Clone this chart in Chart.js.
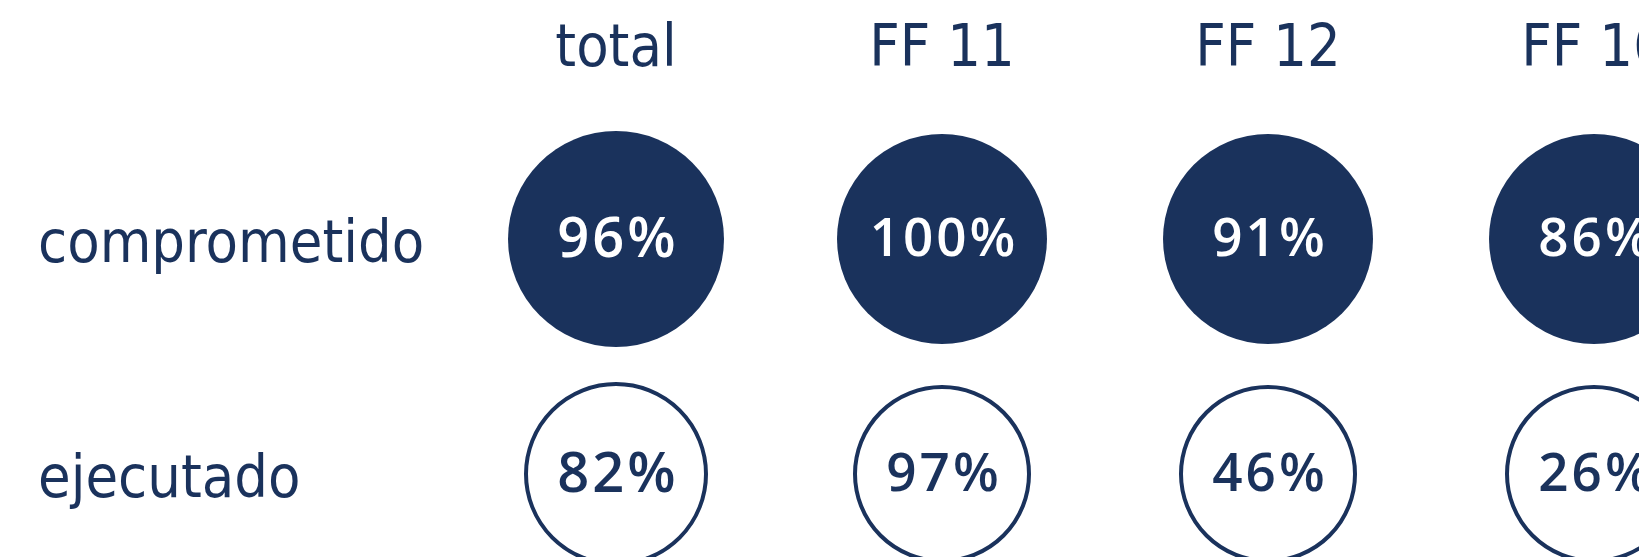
<!DOCTYPE html>
<html>
<head>
<meta charset="utf-8">
<script src="https://cdn.jsdelivr.net/npm/chart.js@4/dist/chart.umd.min.js"></script>
<style>
  html, body { margin: 0; padding: 0; background: #fff; }
  .wrap { width: 1639px; height: 557px; position: relative; }
</style>
</head>
<body>
<div class="wrap"><canvas id="chart"></canvas></div>
<script>
const columns = ["total", "FF 11", "FF 12", "FF 16"];
const rows = ["comprometido", "ejecutado"];
const comprometido = [96, 100, 91, 86];
const ejecutado = [82, 97, 46, 26];

const NAVY = "#1a325c";
const LABEL_FONT = "'DejaVu Sans Condensed', 'Liberation Sans Narrow', 'DejaVu Sans', sans-serif";
const NUM_FONT = "'Open Sans', 'DejaVu Sans', sans-serif";

const percentages = [comprometido, ejecutado];

// writes the % value in the middle of each circle
const valueLabels = {
  id: "valueLabels",
  afterDatasetsDraw(chart) {
    const ctx = chart.ctx;
    chart.data.datasets.forEach((ds, i) => {
      const meta = chart.getDatasetMeta(i);
      meta.data.forEach((pt, j) => {
        ctx.save();
        ctx.font = `600 ${j === 0 ? 56 : 53}px ${NUM_FONT}`;
        ctx.letterSpacing = "3px";
        ctx.fillStyle = i === 0 ? "#ffffff" : NAVY;
        ctx.textAlign = "center";
        ctx.textBaseline = "middle";
        ctx.fillText(`${percentages[i][j]}%`, pt.x + 2, pt.y + 2);
        ctx.restore();
      });
    });
  },
};

const toPoints = (row, values) => values.map((v, j) => ({ x: columns[j], y: row }));

// axis label overflow should not shrink the plot area
const noScalePadding = (scale) => {
  scale.paddingLeft = 0;
  scale.paddingRight = 0;
  scale.paddingTop = 0;
  scale.paddingBottom = 0;
};

new Chart(document.getElementById("chart"), {
  type: "scatter",
  data: {
    datasets: [
      {
        label: rows[0],
        data: toPoints(rows[0], comprometido),
        backgroundColor: NAVY,
        borderColor: NAVY,
        borderWidth: 0,
        pointRadius: (c) => (c.dataIndex === 0 ? 108 : 105),
        pointHoverRadius: (c) => (c.dataIndex === 0 ? 108 : 105),
        clip: false,
      },
      {
        label: rows[1],
        data: toPoints(rows[1], ejecutado),
        backgroundColor: "#ffffff",
        borderColor: NAVY,
        borderWidth: 4,
        pointRadius: (c) => (c.dataIndex === 0 ? 90 : 87),
        pointHoverRadius: (c) => (c.dataIndex === 0 ? 90 : 87),
        clip: false,
      },
    ],
  },
  options: {
    responsive: true,
    maintainAspectRatio: false,
    animation: false,
    events: [],
    layout: { autoPadding: false, padding: { left: 38, right: 45, top: 0, bottom: 83 } },
    plugins: { legend: { display: false }, tooltip: { enabled: false } },
    scales: {
      x: {
        type: "category",
        labels: columns,
        position: "top",
        offset: false,
        grid: { display: false, drawTicks: false },
        border: { display: false },
        ticks: {
          color: NAVY,
          padding: 153,
          font: { family: LABEL_FONT, size: 59 },
          maxRotation: 0,
          autoSkip: false,
        },
        afterFit: (scale) => {
          scale.height = 239;
          noScalePadding(scale);
        },
      },
      y: {
        type: "category",
        labels: rows,
        offset: false,
        grid: { display: false, drawTicks: false },
        border: { display: false },
        ticks: {
          color: NAVY,
          crossAlign: "far",
          labelOffset: 8,
          font: { family: LABEL_FONT, size: 59 },
        },
        afterFit: (scale) => {
          scale.width = 578;
          noScalePadding(scale);
        },
      },
    },
  },
  plugins: [valueLabels],
});
</script>
</body>
</html>
